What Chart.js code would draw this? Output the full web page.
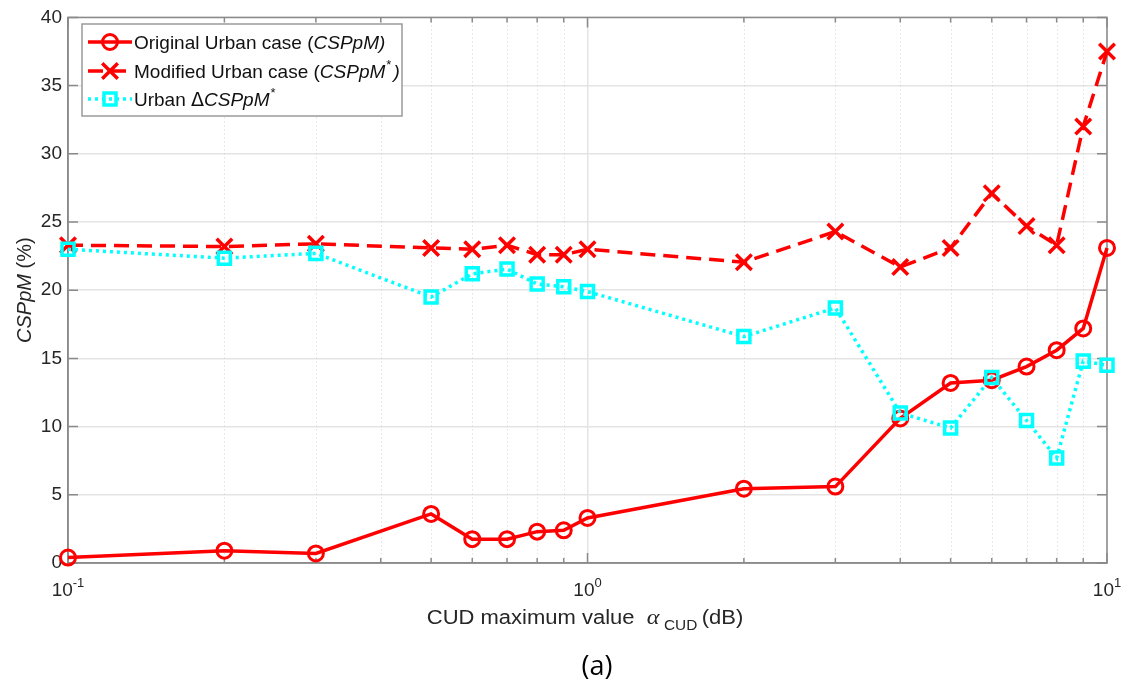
<!DOCTYPE html>
<html>
<head>
<meta charset="utf-8">
<script src="https://cdn.jsdelivr.net/npm/chart.js@4.4.1/dist/chart.umd.min.js"></script>
<style>
  html, body { margin: 0; padding: 0; background: #fff; }
  #wrap { width: 1130px; height: 690px; }
</style>
</head>
<body>
<div id="wrap"><canvas id="cspChart" width="1130" height="690"></canvas></div>
<script>
// values (x axis is logarithmic)
const alphaCud = [0.1, 0.2, 0.3, 0.5, 0.6, 0.7, 0.8, 0.9, 1, 2, 3, 4, 5, 6, 7, 8, 9, 10];
const originalUrban = [0.4, 0.9, 0.7, 3.6, 1.75, 1.75, 2.3, 2.4, 3.3, 5.45, 5.6, 10.6, 13.2, 13.4, 14.4, 15.6, 17.2, 23.1];
const modifiedUrban = [23.3, 23.2, 23.4, 23.1, 23.0, 23.3, 22.6, 22.6, 23.0, 22.05, 24.3, 21.7, 23.1, 27.1, 24.7, 23.3, 32.0, 37.5];
const deltaUrban = [23.0, 22.35, 22.7, 19.5, 21.2, 21.55, 20.45, 20.25, 19.9, 16.6, 18.7, 11.0, 9.9, 13.6, 10.45, 7.7, 14.8, 14.5];

const xDecades = [0.1, 1, 10];
const xDecadeExp = ['-1', '0', '1'];
const xMinorTicks = [0.2, 0.3, 0.4, 0.5, 0.6, 0.7, 0.8, 0.9, 2, 3, 4, 5, 6, 7, 8, 9];
const yTicks = [0, 5, 10, 15, 20, 25, 30, 35, 40];

const SANS = '"Liberation Sans", Arial, Helvetica, sans-serif';
const RED = '#ff0000';
const CYAN = '#00ffff';
const AXIS = '#8a8a8a';

const toPoints = ys => ys.map((y, i) => ({ x: alphaCud[i], y: y }));

function drawRich(ctx, parts, x, y) {
    parts.forEach(p => {
        ctx.font = p.font;
        ctx.fillText(p.text, x, y + (p.dy || 0));
        x += ctx.measureText(p.text).width + (p.gap || 0);
    });
}
function richWidth(ctx, parts) {
    let w = 0;
    parts.forEach(p => { ctx.font = p.font; w += ctx.measureText(p.text).width + (p.gap || 0); });
    return w;
}

// matlab look: dotted minor grid, inner ticks, box, legend and rich texts
const matlabLook = {
    id: 'matlabLook',
    beforeDatasetsDraw(chart) {
        const ctx = chart.ctx, a = chart.chartArea;
        const xs = chart.scales.x, ys = chart.scales.y;
        ctx.save();
        // minor grid
        ctx.strokeStyle = '#d4d4d4';
        ctx.lineWidth = 1;
        ctx.setLineDash([1, 3]);
        xMinorTicks.forEach(v => {
            const px = Math.round(xs.getPixelForValue(v)) + 0.5;
            ctx.beginPath(); ctx.moveTo(px, a.top); ctx.lineTo(px, a.bottom); ctx.stroke();
        });
        ctx.setLineDash([]);
        // box + inner ticks
        ctx.strokeStyle = AXIS;
        ctx.lineWidth = 1.5;
        ctx.strokeRect(a.left, a.top, a.right - a.left, a.bottom - a.top);
        ctx.beginPath();
        yTicks.forEach(v => {
            const py = ys.getPixelForValue(v);
            ctx.moveTo(a.left, py); ctx.lineTo(a.left + 10, py);
            ctx.moveTo(a.right, py); ctx.lineTo(a.right - 10, py);
        });
        xDecades.forEach(v => {
            const px = xs.getPixelForValue(v);
            ctx.moveTo(px, a.bottom); ctx.lineTo(px, a.bottom - 10);
            ctx.moveTo(px, a.top); ctx.lineTo(px, a.top + 10);
        });
        xMinorTicks.forEach(v => {
            const px = xs.getPixelForValue(v);
            ctx.moveTo(px, a.bottom); ctx.lineTo(px, a.bottom - 5);
            ctx.moveTo(px, a.top); ctx.lineTo(px, a.top + 5);
        });
        ctx.stroke();
        ctx.restore();
    },
    afterDraw(chart) {
        const ctx = chart.ctx, a = chart.chartArea;
        const xs = chart.scales.x;
        ctx.save();
        ctx.textBaseline = 'alphabetic';
        ctx.textAlign = 'left';

        // x tick labels 10^n
        ctx.fillStyle = '#262626';
        xDecades.forEach((v, i) => {
            const parts = [
                { text: '10', font: '19px ' + SANS },
                { text: xDecadeExp[i], font: '13px ' + SANS, dy: -9 }
            ];
            const w = richWidth(ctx, parts);
            drawRich(ctx, parts, xs.getPixelForValue(v) - w / 2, a.bottom + 33);
        });

        // x title
        const xt = [
            { text: 'CUD maximum value  ', font: '20px ' + SANS },
            { text: 'α', font: 'italic 22px "Liberation Serif", "DejaVu Serif", serif', gap: 4 },
            { text: 'CUD', font: '14px ' + SANS, dy: 6, gap: 4 },
            { text: '(dB)', font: '20px ' + SANS }
        ];
        const xtw = richWidth(ctx, xt);
        ctx.save();
        ctx.translate(585, a.bottom + 61);
        ctx.scale(1.1, 1);
        drawRich(ctx, xt, -xtw / 2, 0);
        ctx.restore();

        // caption
        ctx.fillStyle = '#000';
        ctx.font = '27px "Open Sans", "Noto Sans", sans-serif';
        ctx.textAlign = 'center';
        ctx.fillText('(a)', 597, a.bottom + 112);
        ctx.textAlign = 'left';

        // y title
        ctx.fillStyle = '#262626';
        const yt = [
            { text: 'CSPpM', font: 'italic 20px ' + SANS },
            { text: ' (%)', font: '20px ' + SANS }
        ];
        const ytw = richWidth(ctx, yt);
        ctx.save();
        ctx.translate(31, (a.top + a.bottom) / 2);
        ctx.rotate(-Math.PI / 2);
        drawRich(ctx, yt, -ytw / 2, 0);
        ctx.restore();

        // legend
        const lx = 82, ly = 24, lw = 320, lh = 92;
        ctx.fillStyle = '#fff';
        ctx.fillRect(lx, ly, lw, lh);
        ctx.strokeStyle = '#9a9a9a';
        ctx.lineWidth = 1.5;
        ctx.strokeRect(lx, ly, lw, lh);

        const rows = [
            { ds: 0, y: 42, text: [
                { text: 'Original Urban case (', font: '19px ' + SANS },
                { text: 'CSPpM)', font: 'italic 19px ' + SANS }] },
            { ds: 1, y: 71, text: [
                { text: 'Modified Urban case (', font: '19px ' + SANS },
                { text: 'CSPpM', font: 'italic 19px ' + SANS, gap: 1 },
                { text: '*', font: '13px ' + SANS, dy: -9, gap: 2 },
                { text: ')', font: 'italic 19px ' + SANS }] },
            { ds: 2, y: 99, text: [
                { text: 'Urban ', font: '19px ' + SANS },
                { text: 'Δ', font: '19px "DejaVu Sans", ' + SANS },
                { text: 'CSPpM', font: 'italic 19px ' + SANS, gap: 1 },
                { text: '*', font: '13px ' + SANS, dy: -9 }] }
        ];
        rows.forEach(r => {
            const ds = chart.data.datasets[r.ds];
            ctx.strokeStyle = ds.borderColor;
            ctx.lineWidth = ds.borderWidth;
            ctx.setLineDash(ds.borderDash || []);
            ctx.beginPath(); ctx.moveTo(88, r.y); ctx.lineTo(132, r.y); ctx.stroke();
            ctx.setLineDash([]);
            ctx.fillStyle = 'rgba(0,0,0,0)';
            ctx.lineWidth = ds.pointBorderWidth;
            Chart.helpers.drawPoint(ctx, {
                pointStyle: ds.pointStyle, radius: ds.pointRadius,
                borderWidth: ds.pointBorderWidth, rotation: 0
            }, 110, r.y);
            ctx.fillStyle = '#111';
            drawRich(ctx, r.text, 134, r.y + 7);
        });
        ctx.restore();
    }
};

new Chart(document.getElementById('cspChart'), {
    type: 'line',
    data: {
        datasets: [
            {
                label: 'Original Urban case (CSPpM)',
                data: toPoints(originalUrban),
                borderColor: RED,
                borderWidth: 3.5,
                pointStyle: 'circle',
                pointRadius: 7.5,
                pointBorderWidth: 3,
                pointBorderColor: RED,
                pointBackgroundColor: 'rgba(0,0,0,0)',
                clip: false,
                order: 3
            },
            {
                label: 'Modified Urban case (CSPpM*)',
                data: toPoints(modifiedUrban),
                borderColor: RED,
                borderWidth: 3.5,
                borderDash: [15, 8],
                pointStyle: 'crossRot',
                pointRadius: 11,
                pointBorderWidth: 3.5,
                pointBorderColor: RED,
                pointBackgroundColor: 'rgba(0,0,0,0)',
                clip: false,
                order: 2
            },
            {
                label: 'Urban \u0394CSPpM*',
                data: toPoints(deltaUrban),
                borderColor: CYAN,
                borderWidth: 3.5,
                borderDash: [3, 4],
                pointStyle: 'rect',
                pointRadius: 8.5,
                pointBorderWidth: 3.5,
                pointBorderColor: CYAN,
                pointBackgroundColor: 'rgba(0,0,0,0)',
                clip: false,
                order: 1
            }
        ]
    },
    options: {
        responsive: false,
        animation: false,
        layout: { padding: { left: 0, right: 23, top: 13, bottom: 0 } },
        plugins: { legend: { display: false }, tooltip: { enabled: false } },
        scales: {
            x: {
                type: 'logarithmic',
                min: 0.1,
                max: 10,
                afterBuildTicks: s => { s.ticks = xDecades.map(v => ({ value: v })); },
                afterFit: s => { s.height = 127; },
                ticks: { display: false },
                grid: { color: '#e4e4e4', lineWidth: 1.5, drawTicks: false },
                border: { color: AXIS, width: 1.5 }
            },
            y: {
                min: 0,
                max: 40,
                afterBuildTicks: s => { s.ticks = yTicks.map(v => ({ value: v })); },
                afterFit: s => { s.width = 68; },
                ticks: { font: { family: SANS, size: 19 }, color: '#262626', padding: 6 },
                grid: { color: '#e4e4e4', lineWidth: 1.5, drawTicks: false },
                border: { color: AXIS, width: 1.5 }
            }
        }
    },
    plugins: [matlabLook]
});
</script>
</body>
</html>
